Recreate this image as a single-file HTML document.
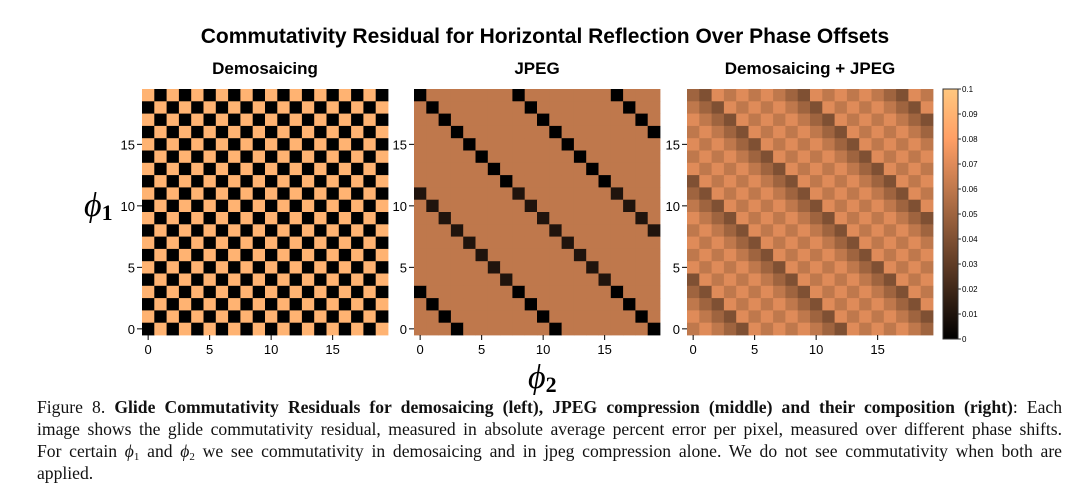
<!DOCTYPE html>
<html><head><meta charset="utf-8">
<style>
body{margin:0;width:1080px;height:496px;background:#fff;overflow:hidden;font-family:"Liberation Sans",sans-serif;}
#cap{position:absolute;left:37px;top:396px;width:1025px;font-family:"Liberation Serif",serif;font-size:17.6px;line-height:22px;color:#111;}
#cap div{white-space:nowrap;height:22px;}
#cap .j{text-align:justify;text-align-last:justify;white-space:normal;}
#cap sub{font-size:11px;line-height:0;vertical-align:-3px;}
</style></head>
<body>
<svg id="fig" width="1080" height="496" style="position:absolute;left:0;top:0">
<defs><linearGradient id="cg" x1="0" y1="1" x2="0" y2="0"></linearGradient></defs>
<text x="545" y="43" text-anchor="middle" font-weight="bold" font-size="21">Commutativity Residual for Horizontal Reflection Over Phase Offsets</text>
<text x="84" y="216" font-family="Liberation Serif,serif" font-style="italic" font-size="34">ϕ<tspan font-size="22" font-style="normal" font-weight="bold" dy="4">1</tspan></text>
<text x="528" y="388" font-family="Liberation Serif,serif" font-style="italic" font-size="34">ϕ<tspan font-size="22" font-style="normal" font-weight="bold" dy="4">2</tspan></text>
</svg>
<div id="cap">
<div class="j">Figure 8. <b>Glide Commutativity Residuals for demosaicing (left), JPEG compression (middle) and their composition (right)</b>: Each</div>
<div class="j">image shows the glide commutativity residual, measured in absolute average percent error per pixel, measured over different phase shifts.</div>
<div class="j">For certain <i>ϕ</i><sub>1</sub> and <i>ϕ</i><sub>2</sub> we see commutativity in demosaicing and in jpeg compression alone. We do not see commutativity when both are</div>
<div>applied.</div>
</div>
<script>
// rows listed from top (phi1=19) to bottom (phi1=0); digit d => value d/100
const demosaicRows=["90909090909090909090","09090909090909090909","90909090909090909090","09090909090909090909","90909090909090909090","09090909090909090909","90909090909090909090","09090909090909090909","90909090909090909090","09090909090909090909","90909090909090909090","09090909090909090909","90909090909090909090","09090909090909090909","90909090909090909090","09090909090909090909","90909090909090909090","09090909090909090909","90909090909090909090","09090909090909090909"];
const jpegRows=["06666666066666660666","60666666606666666066","66066666660666666606","66606666666066666660","66660666666606666666","66666066666660666666","66666606666666066666","66666660666666606666","16666666166666661666","61666666616666666166","66166666661666666616","66616666666166666661","66661666666616666666","66666166666661666666","66666616666666166666","66666661666666616666","06666666066666660666","60666666606666666066","66066666660666666606","66606666666066666660"];
const bothRows=["54767676547676765476","65476767654767676547","76547676765476767654","67654767676547676765","76765476767654767676","67676547676765476767","76767654767676547676","47676765476767654767","54767676547676765476","65476767654767676547","76547676765476767654","67654767676547676765","76765476767654767676","67676547676765476767","76767654767676547676","47676765476767654767","54767676547676765476","65476767654767676547","76547676765476767654","67654767676547676765"];
const panelTitles=["Demosaicing","JPEG","Demosaicing + JPEG"];
const tickVals=[0,5,10,15];
const cbarTicks=[0,0.01,0.02,0.03,0.04,0.05,0.06,0.07,0.08,0.09,0.1];
const vmax=0.1;
const NS="http://www.w3.org/2000/svg";
const svg=document.getElementById('fig');
function copper(v){const x=Math.max(0,Math.min(1,v/vmax));return `rgb(${Math.round(255*Math.min(1,1.25*x))},${Math.round(255*0.7812*x)},${Math.round(255*0.4975*x)})`;}
function mk(t,a){const e=document.createElementNS(NS,t);for(const k in a)e.setAttribute(k,a[k]);svg.appendChild(e);return e;}
const panels=[{rows:demosaicRows,x0:142},{rows:jpegRows,x0:414},{rows:bothRows,x0:687}];
const y0=89,W=246,H=246,n=20,cw=W/n,ch=H/n;
const xs=(c,x0)=>x0+c*cw, ys=r=>y0+H-(r+1)*ch;
panels.forEach((p,i)=>{
  const g=document.createElementNS(NS,'g');svg.appendChild(g);
  
  
  p.rows.forEach((row,ri)=>{const r=n-1-ri;
    for(let c=0;c<n;c++){const v=+row[c]/100;
      const e=document.createElementNS(NS,'rect');
      e.setAttribute('x',xs(c,p.x0));e.setAttribute('y',ys(r));e.setAttribute('width',cw+0.4);e.setAttribute('height',ch+0.4);e.setAttribute('fill',copper(v));
      
      
      g.appendChild(e);}
  });
  const t=mk('text',{x:p.x0+W/2,y:74,'text-anchor':'middle','font-weight':'bold','font-size':17});t.textContent=panelTitles[i];
  
  
  tickVals.forEach(v=>{
    const cx=xs(v,p.x0)+cw/2, cy=ys(v)+ch/2;
    mk('line',{x1:cx,x2:cx,y1:y0+H,y2:y0+H+5,stroke:'#000'});
    const tx=mk('text',{x:cx,y:y0+H+19,'text-anchor':'middle','font-size':13});tx.textContent=v;
    
    
    mk('line',{x1:p.x0-5,x2:p.x0,y1:cy,y2:cy,stroke:'#000'});
    const ty=mk('text',{x:p.x0-7,y:cy+5,'text-anchor':'end','font-size':13});ty.textContent=v;
    
    
  });
});
// colorbar
const cb={x:943,y:89,w:15,h:250};
const lg=document.getElementById('cg');
for(let k=0;k<=10;k++){const s=document.createElementNS(NS,'stop');s.setAttribute('offset',k/10);s.setAttribute('stop-color',copper(vmax*k/10));lg.appendChild(s);}
const cbr=mk('rect',{x:cb.x,y:cb.y,width:cb.w,height:cb.h,fill:'url(#cg)',stroke:'#333','stroke-width':1});


cbarTicks.forEach(v=>{const yy=cb.y+cb.h-v/vmax*cb.h;
  mk('line',{x1:cb.x+cb.w,x2:cb.x+cb.w+3,y1:yy,y2:yy,stroke:'#333'});
  const t=mk('text',{x:cb.x+cb.w+4,y:yy+3,'font-size':8});t.textContent=v;
  
  
});
</script>
</body></html>
